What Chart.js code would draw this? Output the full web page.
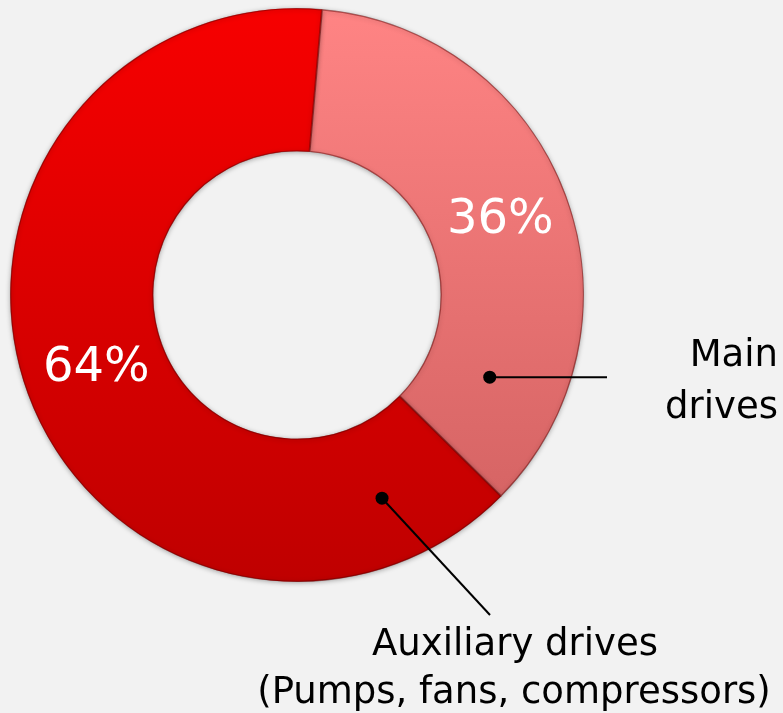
<!DOCTYPE html>
<html>
<head>
<meta charset="utf-8">
<script src="https://cdn.jsdelivr.net/npm/chart.js@4.4.1/dist/chart.umd.min.js"></script>
<style>
html,body{margin:0;padding:0;background:#f2f2f2;}
#wrap{width:783px;height:713px;position:relative;}
</style>
</head>
<body>
<div id="wrap"><canvas id="c" width="783" height="713"></canvas></div>
<script>
const categories = ["Main drives", "Auxiliary drives (Pumps, fans, compressors)"];
const shares = [36, 64];
const valueLabels = ["36%", "64%"];
const labelLines = [["Main", "drives"], ["Auxiliary drives", "(Pumps, fans, compressors)"]];

const FONT = '"DejaVu Sans", Verdana, sans-serif';

function grad(ctx, area, top, bottom) {
  const g = ctx.createLinearGradient(0, area.top, 0, area.bottom);
  g.addColorStop(0, top);
  g.addColorStop(1, bottom);
  return g;
}

const shadowPlugin = {
  id: 'shadow',
  beforeDatasetsDraw(chart) {
    const ctx = chart.ctx;
    ctx.save();
    ctx.shadowColor = 'rgba(0,0,0,0.35)';
    ctx.shadowBlur = 5;
    ctx.shadowOffsetX = 0;
    ctx.shadowOffsetY = 1;
  },
  afterDatasetsDraw(chart) {
    chart.ctx.restore();
  }
};

function ringPoint(arc, angFrac, radFrac) {
  const ang = arc.startAngle + (arc.endAngle - arc.startAngle) * angFrac;
  const r = arc.innerRadius + (arc.outerRadius - arc.innerRadius) * radFrac;
  return [arc.x + Math.cos(ang) * r, arc.y + Math.sin(ang) * r];
}

const labelPlugin = {
  id: 'labels',
  afterDraw(chart) {
    const ctx = chart.ctx;
    const meta = chart.getDatasetMeta(0);
    const a0 = meta.data[0], a1 = meta.data[1];
    ctx.save();
    // percentage labels inside ring
    ctx.fillStyle = '#ffffff';
    ctx.font = '48px ' + FONT;
    ctx.textAlign = 'center';
    ctx.textBaseline = 'middle';
    let p = ringPoint(a0, 0.5, 0.51);
    ctx.fillText(valueLabels[0], p[0], p[1]);
    p = ringPoint(a1, 0.5, 0.49);
    ctx.fillText(valueLabels[1], p[0], p[1]);
    // leader lines
    ctx.strokeStyle = '#000';
    ctx.fillStyle = '#000';
    ctx.lineWidth = 2;
    const p0 = ringPoint(a0, 0.834, 0.46);
    const p1 = ringPoint(a1, 0.0985, 0.535);
    ctx.beginPath(); ctx.moveTo(p0[0], p0[1]); ctx.lineTo(607, p0[1]); ctx.stroke();
    ctx.beginPath(); ctx.arc(p0[0], p0[1], 6.5, 0, Math.PI * 2); ctx.fill();
    ctx.beginPath(); ctx.moveTo(p1[0], p1[1]); ctx.lineTo(490, 615); ctx.stroke();
    ctx.beginPath(); ctx.arc(p1[0], p1[1], 6.5, 0, Math.PI * 2); ctx.fill();
    // category labels
    ctx.fillStyle = '#000';
    ctx.font = '37px ' + FONT;
    ctx.textBaseline = 'alphabetic';
    ctx.textAlign = 'right';
    ctx.fillText(labelLines[0][0], 778, 366);
    ctx.fillText(labelLines[0][1], 778, 418);
    ctx.textAlign = 'center';
    ctx.fillText(labelLines[1][0], 515, 655);
    ctx.fillText(labelLines[1][1], 514, 703);
    ctx.restore();
  }
};

new Chart(document.getElementById('c'), {
  type: 'doughnut',
  data: {
    labels: categories,
    datasets: [{
      data: shares,
      backgroundColor(context) {
        const chart = context.chart;
        const area = chart.chartArea;
        if (!area) return context.dataIndex === 0 ? '#f07878' : '#e00000';
        return context.dataIndex === 0
          ? grad(chart.ctx, area, '#ff8484', '#cf5f5f')
          : grad(chart.ctx, area, '#f70000', '#bf0000');
      },
      borderColor: 'rgba(90,0,0,0.45)',
      borderWidth: 1,
      hoverOffset: 0,
      borderAlign: 'inner'
    }]
  },
  options: {
    responsive: false,
    animation: false,
    cutout: '50%',
    rotation: 5,
    layout: { padding: { left: 10, right: 199, top: 8, bottom: 131 } },
    plugins: { legend: { display: false }, tooltip: { enabled: false } }
  },
  plugins: [shadowPlugin, labelPlugin]
});
</script>
</body>
</html>
